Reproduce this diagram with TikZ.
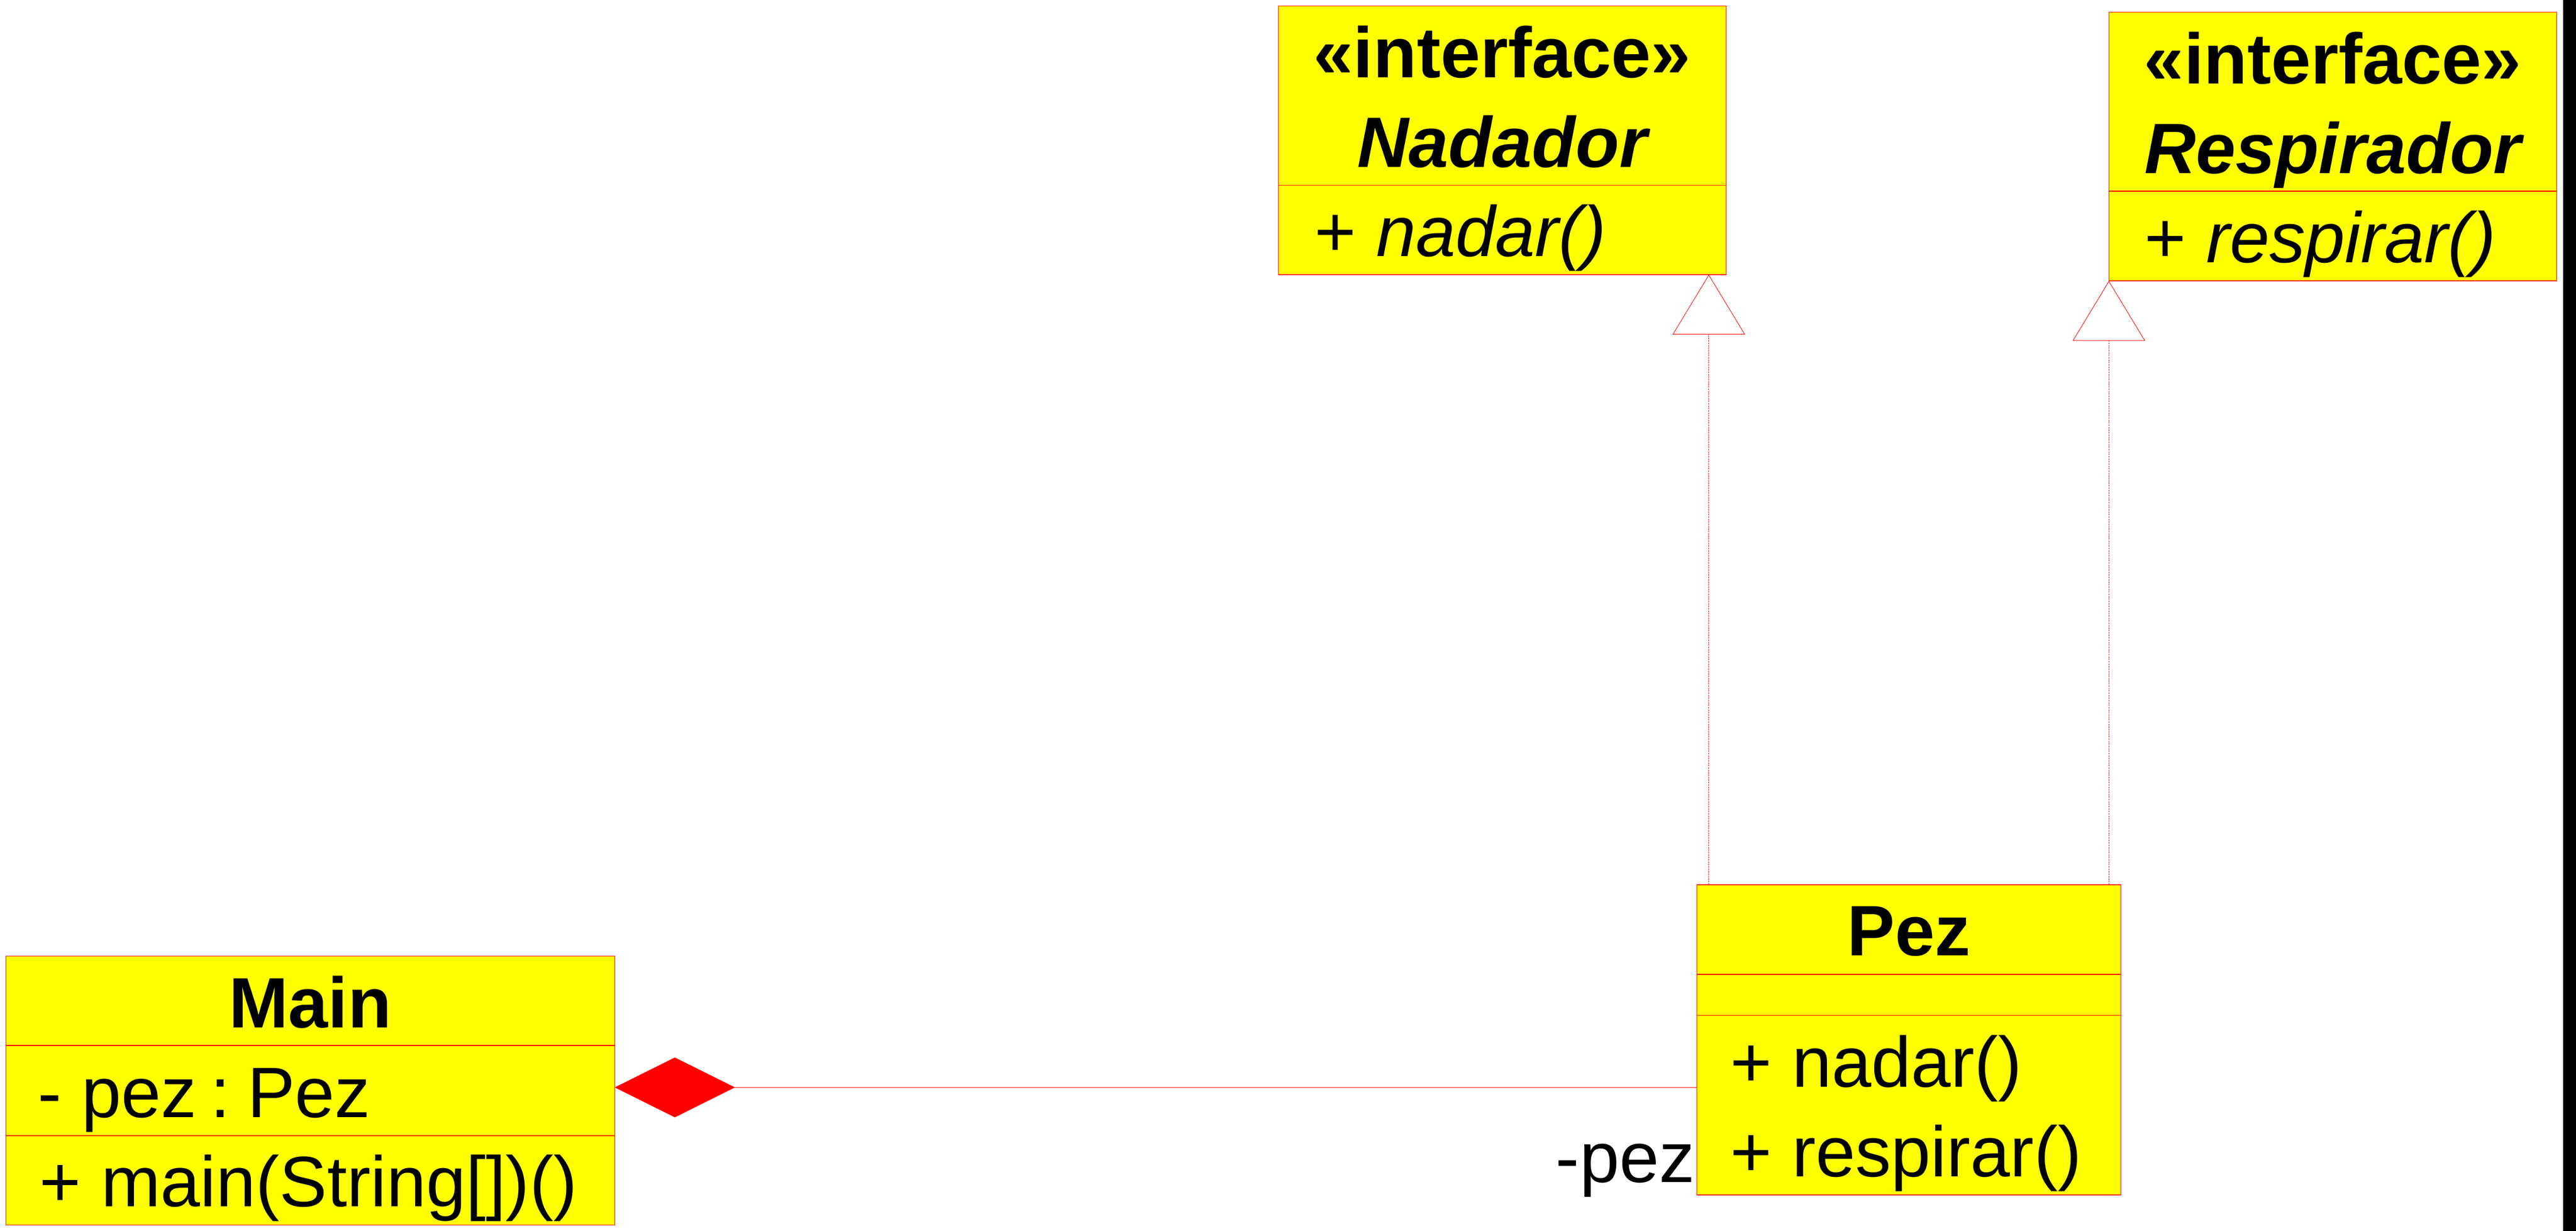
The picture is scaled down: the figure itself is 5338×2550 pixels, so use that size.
\documentclass[tikz,border=0pt]{standalone}
\usepackage{fontspec}
\setmainfont{Liberation Sans}
\usetikzlibrary{arrows.meta}
\definecolor{umlyellow}{RGB}{255,255,0}
\definecolor{umlred}{RGB}{255,0,0}
\begin{document}
\begin{tikzpicture}[x=0.1pt,y=-0.1pt,
  classbox/.style 2 args={rectangle, draw=umlred, fill=umlyellow, line width=0.15pt,
    inner sep=0pt, outer sep=0pt, minimum width=#1, minimum height=#2},
  divider/.style={draw=umlred, line width=0.15pt},
  txt/.style={inner sep=0pt, outer sep=0pt, font=\fontsize{14.8}{17}\selectfont},
  realize/.style={draw=umlred, line width=0.1pt, dash pattern=on 0.33pt off 0.17pt,
    -{Triangle[open, length=12.4pt, width=15pt, fill=white]}},
  compose/.style={draw=umlred, line width=0.1pt,
    -{Diamond[length=24.9pt, width=12.4pt, fill=umlred]}}
]
\useasboundingbox (0,0) rectangle (5338,2550);
\fill[white] (0,0) rectangle (5338,2550);
\fill[black] (5311,0) rectangle (5338,2550);

% Nadador
\node[classbox={92.8pt}{55.7pt}] (nad) at (3113,290.5) {};
\draw[divider] (nad.west |- 0,384) -- (nad.east |- 0,384);
\node[txt, anchor=base] (nadst) at (3113,161) {\bfseries «interface»};
\node[txt, anchor=base] (nadnm) at (3113,346) {\bfseries\itshape Nadador};
\node[txt, anchor=base west] (nadop) at (2724,531) {+ \textit{nadar()}};

% Respirador
\node[classbox={92.8pt}{55.7pt}] (resp) at (4834,303.5) {};
\draw[divider] (resp.west |- 0,396) -- (resp.east |- 0,396);
\node[txt, anchor=base] (respst) at (4834,173) {\bfseries «interface»};
\node[txt, anchor=base] (respnm) at (4834,359) {\bfseries\itshape Respirador};
\node[txt, anchor=base west] (respop) at (4444,544) {+ \textit{respirar()}};

% Pez
\node[classbox={87.9pt}{64.3pt}] (pez) at (3955.5,2154.5) {};
\draw[divider] (pez.west |- 0,2019) -- (pez.east |- 0,2019);
\draw[divider] (pez.west |- 0,2104) -- (pez.east |- 0,2104);
\node[txt, anchor=base] (peznm) at (3955.5,1980) {\bfseries Pez};
\node[txt, anchor=base west] (pezop1) at (3586,2252) {+ nadar()};
\node[txt, anchor=base west] (pezop2) at (3586,2438) {+ respirar()};

% Main
\node[classbox={126.2pt}{55.7pt}] (main) at (643,2259.5) {};
\draw[divider] (main.west |- 0,2166) -- (main.east |- 0,2166);
\draw[divider] (main.west |- 0,2353) -- (main.east |- 0,2353);
\node[txt, anchor=base] (mainnm) at (643,2129) {\bfseries Main};
\node[txt, anchor=base west] (mainat) at (79,2315) {- pez\hspace{0.19em}:\hspace{0.24em}Pez};
\node[txt, anchor=base west] (mainop) at (82,2500) {+ main(String[])()};

% connectors
\coordinate (nadx) at (3541,0);
\coordinate (compy) at (0,2253);
\draw[realize] (pez.north -| nadx) -- (nad.south -| nadx);
\draw[realize] (pez.north -| resp.west) -- (resp.south west);
\draw[compose] (pez.west |- compy) -- (main.east |- compy);
\node[txt, anchor=base east] (role) at (3512,2450) {-pez};
\end{tikzpicture}
\end{document}
